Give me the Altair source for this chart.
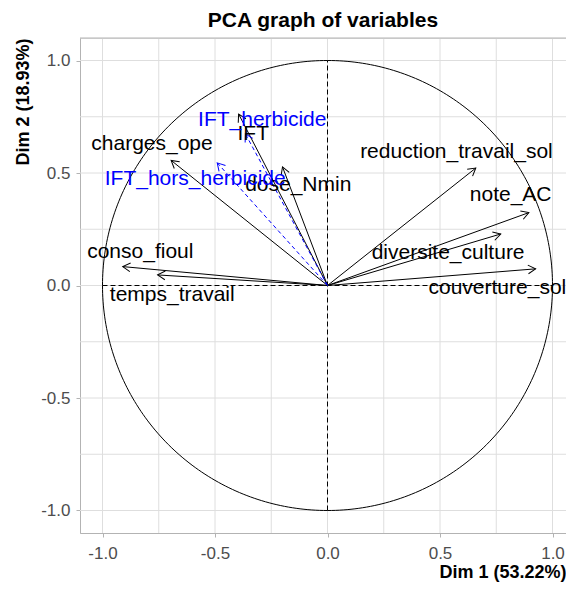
import altair as alt
import pandas as pd
import numpy as np

# Active variables (black, solid arrows)
variables = ["conso_fioul", "temps_travail", "charges_ope", "IFT", "dose_Nmin",
             "reduction_travail_sol", "note_AC", "diversite_culture", "couverture_sol"]
dim1 = [-0.91, -0.755, -0.695, -0.395, -0.20, 0.659, 0.895, 0.77, 0.925]
dim2 = [0.084, 0.047, 0.556, 0.762, 0.527, 0.522, 0.324, 0.229, 0.074]
label_x = [-0.832, -0.69, -0.78, -0.33, -0.13, 0.573, 0.814, 0.536, 0.755]
label_y = [0.15, -0.04, 0.63, 0.675, 0.446, 0.593, 0.401, 0.143, -0.012]

# Supplementary variables (blue, dashed arrows)
sup_variables = ["IFT_herbicide", "IFT_hors_herbicide"]
sup_dim1 = [-0.365, -0.49]
sup_dim2 = [0.674, 0.545]
sup_label_x = [-0.29, -0.588]
sup_label_y = [0.734, 0.475]

major_breaks = [-1.0, -0.5, 0.0, 0.5, 1.0]
minor_breaks = [-0.75, -0.25, 0.25, 0.75]
x_limits = [-1.1, 1.06]
y_limits = [-1.1, 1.1]

FONT = "Liberation Sans"
BLUE = "#0000FF"
BORDER = "#B3B3B3"

def head_angle(x, y):
    return float(np.degrees(np.arctan2(x, y)) % 360)

act = pd.DataFrame({"var": variables, "d1": dim1, "d2": dim2,
                    "lx": label_x, "ly": label_y})
act["ang"] = [head_angle(a, b) for a, b in zip(dim1, dim2)]
act["o1"] = 0.0
act["o2"] = 0.0
sup = pd.DataFrame({"var": sup_variables, "d1": sup_dim1, "d2": sup_dim2,
                    "lx": sup_label_x, "ly": sup_label_y})
sup["ang"] = [head_angle(a, b) for a, b in zip(sup_dim1, sup_dim2)]
sup["o1"] = 0.0
sup["o2"] = 0.0

grid = pd.DataFrame({"v": major_breaks + minor_breaks})
top_edge = pd.DataFrame({"t": [y_limits[1]]})

t = np.linspace(0, 2 * np.pi, 361)
circle = pd.DataFrame({"cx": np.cos(t), "cy": np.sin(t), "i": np.arange(len(t))})

axes_df = pd.DataFrame({"a": [-1.0], "b": [1.0], "z": [0.0]})

xscale = alt.Scale(domain=x_limits, nice=False, zero=False)
yscale = alt.Scale(domain=y_limits, nice=False, zero=False)

label_expr = "replace(format(datum.value, '.1f'), '\u2212', '-')"

xaxis = alt.Axis(values=major_breaks, labelExpr=label_expr, grid=False,
                 domain=True, domainColor=BORDER, domainWidth=1,
                 tickColor=BORDER, tickSize=4, labelFontSize=17, labelColor="#4D4D4D",
                 labelFont=FONT, labelPadding=8, title="Dim 1 (53.22%)", titleFont=FONT,
                 titleFontSize=18, titleFontWeight="bold", titleColor="black",
                 titleAnchor="end", titlePadding=2)
yaxis = alt.Axis(values=major_breaks, labelExpr=label_expr, grid=False,
                 domain=True, domainColor=BORDER, domainWidth=1,
                 tickColor=BORDER, tickSize=4, labelFontSize=17, labelColor="#4D4D4D",
                 labelFont=FONT, labelPadding=6, title="Dim 2 (18.93%)", titleFont=FONT,
                 titleFontSize=18, titleFontWeight="bold", titleColor="black",
                 titleAnchor="end", titlePadding=8)

def X(f):
    return alt.X(f, type="quantitative", scale=xscale, axis=xaxis)

def Y(f):
    return alt.Y(f, type="quantitative", scale=yscale, axis=yaxis)

vgrid = alt.Chart(grid).mark_rule(color="#DEDEDE", strokeWidth=1).encode(x=X("v"))
hgrid = alt.Chart(grid).mark_rule(color="#DEDEDE", strokeWidth=1).encode(y=Y("v"))
top_border = alt.Chart(top_edge).mark_rule(color=BORDER, strokeWidth=1).encode(y=Y("t"))

circ = alt.Chart(circle).mark_line(color="black", strokeWidth=1).encode(
    x=X("cx"), y=Y("cy"), order="i:Q")

hdash = alt.Chart(axes_df).mark_rule(color="black", strokeWidth=1, strokeDash=[5, 3]).encode(
    x=X("a"), x2="b", y=Y("z"))
vdash = alt.Chart(axes_df).mark_rule(color="black", strokeWidth=1, strokeDash=[5, 3]).encode(
    x=X("z"), y=Y("a"), y2="b")

arrow_shape = "M -0.5 0.866 L 0 0 L 0.5 0.866"

act_lines = alt.Chart(act).mark_rule(color="black", strokeWidth=1).encode(
    x=X("o1"), y=Y("o2"), x2="d1", y2="d2")
act_heads = alt.Chart(act).mark_point(shape=arrow_shape, filled=False, size=300,
                                      color="black", strokeWidth=1, opacity=1).encode(
    x=X("d1"), y=Y("d2"), angle=alt.Angle("ang:Q", scale=None))
act_text = alt.Chart(act).mark_text(font=FONT, fontSize=21, color="black",
                                    align="center", baseline="middle").encode(
    x=X("lx"), y=Y("ly"), text="var:N")

sup_lines = alt.Chart(sup).mark_rule(color=BLUE, strokeWidth=1, strokeDash=[4, 3]).encode(
    x=X("o1"), y=Y("o2"), x2="d1", y2="d2")
sup_heads = alt.Chart(sup).mark_point(shape=arrow_shape, filled=False, size=300,
                                      color=BLUE, strokeWidth=1, opacity=1).encode(
    x=X("d1"), y=Y("d2"), angle=alt.Angle("ang:Q", scale=None))
sup_text = alt.Chart(sup).mark_text(font=FONT, fontSize=21, color=BLUE,
                                    align="center", baseline="middle").encode(
    x=X("lx"), y=Y("ly"), text="var:N")

chart = alt.layer(
    vgrid, hgrid, top_border, circ, hdash, vdash,
    act_lines, act_heads, sup_lines, sup_heads, act_text, sup_text
).properties(
    width=486, height=495,
    title=alt.TitleParams("PCA graph of variables", font=FONT, fontSize=21,
                          fontWeight="bold", color="black", anchor="middle", offset=7),
    padding={"left": 72, "top": 30, "right": 0, "bottom": 49},
    autosize=alt.AutoSizeParams(type="none"),
).configure_view(stroke=None).configure(background="white")

chart.save("out.html", embed_options={"renderer": "svg", "actions": False})
